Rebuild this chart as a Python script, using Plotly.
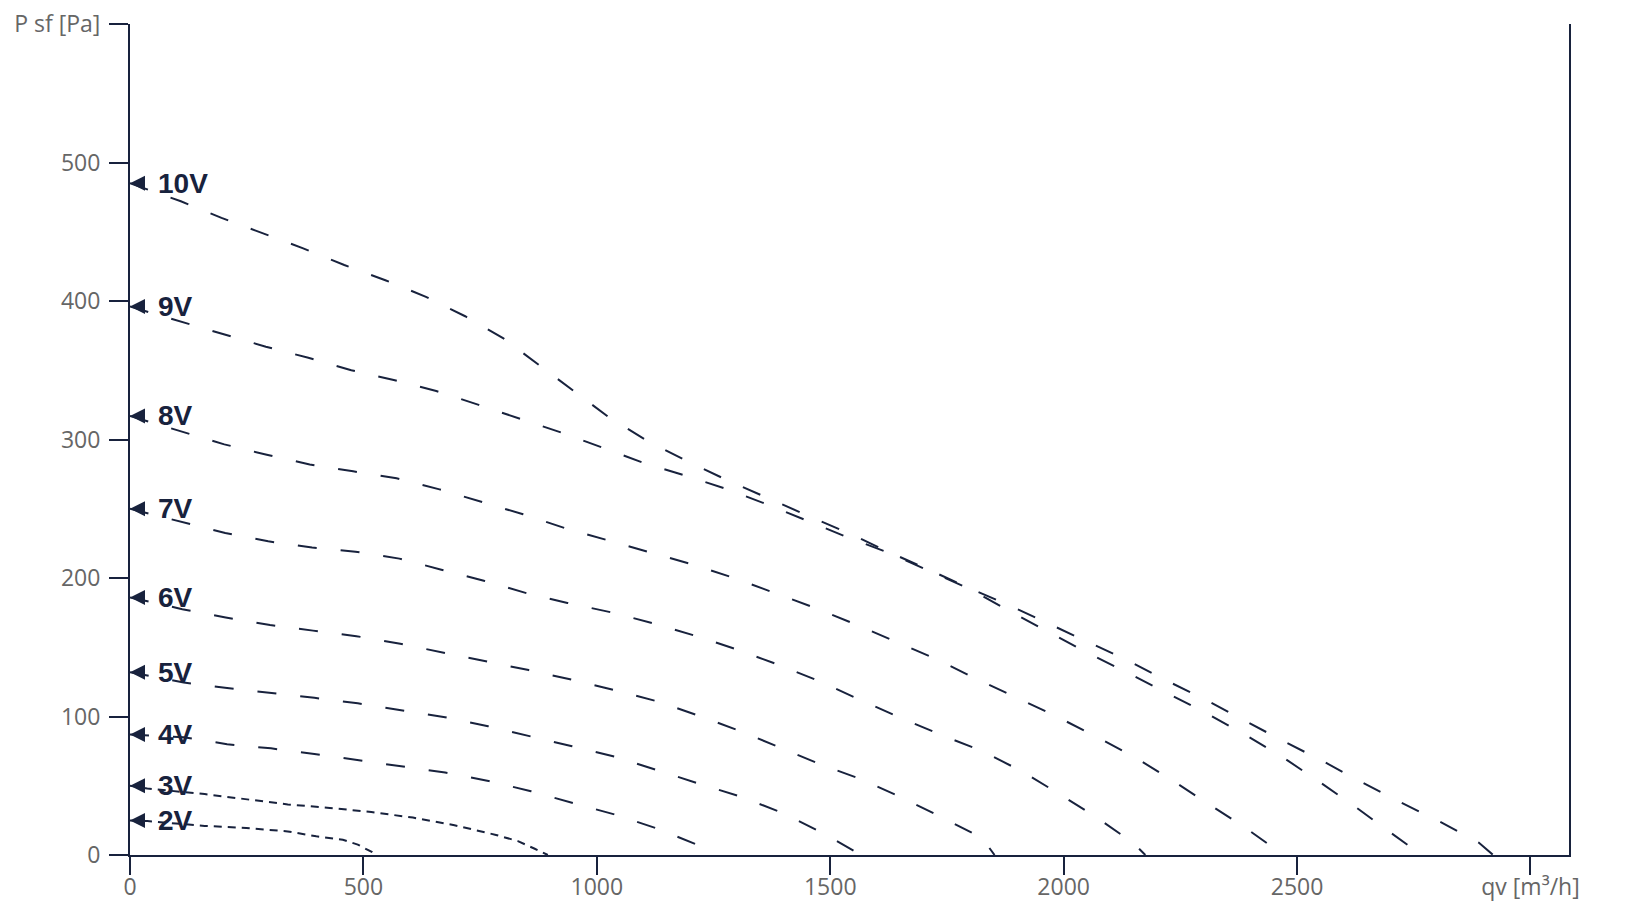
import plotly.graph_objects as go

NAVY = "#18223d"
GREY = "#666666"

# ---- data ----
labels = ["10V", "9V", "8V", "7V", "6V", "5V", "4V", "3V", "2V"]

q10 = [0, 109, 196, 283, 371, 459, 547, 634, 718, 800, 876, 950, 1026, 1108, 1190, 1277, 1363, 1452, 1542,
       1627, 1714, 1799, 1885, 1968, 2051, 2137, 2220, 2305, 2388, 2472, 2554, 2636, 2722, 2806, 2889, 2920]
p10 = [485, 472, 460, 449, 438, 426, 415, 403, 389, 373, 354, 335, 316, 299, 285, 271, 258, 245, 232,
       218.5, 205.5, 192.5, 180, 167, 154, 140.5, 126, 112, 97, 82, 68, 53, 38, 24, 9, 0]

q9 = [0, 109, 201, 291, 382, 474, 565, 656, 747, 836, 924, 1013, 1101, 1189, 1280, 1366, 1454, 1540,
      1627, 1714, 1799, 1885, 1968, 2051, 2137, 2220, 2305, 2388, 2472, 2547, 2624, 2701, 2767]
p9 = [396, 385, 376, 367, 359, 350, 343, 335, 325, 315, 305, 294, 283, 274, 264, 253, 241, 229,
      218, 205, 192, 176, 161, 146, 131.5, 117, 102.5, 87, 70, 53, 35, 16, 0]

q8 = [0, 110, 202, 293, 385, 478, 571, 663, 753, 842, 932, 1021, 1113, 1203, 1294, 1383, 1471, 1558,
      1645, 1730, 1814, 1901, 1985, 2069, 2153, 2232, 2313, 2392, 2471]
p8 = [317, 306, 296.5, 289, 282, 277, 272, 264, 255, 246, 236, 227.5, 219, 210, 200, 189, 178, 166,
      153.5, 141, 127, 113, 100, 85.5, 70.5, 54, 36.5, 19, 0]

q7 = [0, 112, 204, 296, 390, 483, 577, 667, 758, 850, 937, 1034, 1124, 1214, 1303, 1392, 1480, 1564,
      1651, 1739, 1826, 1910, 1991, 2071, 2148, 2175]
p7 = [250, 240.5, 232.5, 226.5, 222, 219, 214, 206, 198, 189, 182, 175, 167, 158, 148, 137, 125, 112,
      99, 86.5, 75, 60.5, 44, 27, 9, 0]

q6 = [0, 112, 205, 300, 392, 485, 579, 672, 764, 854, 947, 1039, 1129, 1219, 1307, 1394, 1482, 1568,
      1656, 1740, 1825, 1852]
p6 = [186, 177.5, 171.5, 166, 162, 158, 152.5, 146, 140, 133.5, 126.5, 119, 111, 100.5, 89.5, 77.5, 65, 54.5,
      41, 27, 12.3, 0]

q5 = [0, 115, 208, 302, 395, 488, 582, 675, 767, 857, 947, 1039, 1130, 1219, 1309, 1397, 1483, 1556, 1562]
p5 = [132, 124.5, 120.5, 117, 113.5, 109.5, 104.5, 99.5, 93, 86, 78.5, 71, 61, 51.5, 42, 30.5, 16, 2, 0]

q4 = [0, 115, 208, 302, 395, 488, 582, 675, 768, 859, 949, 1041, 1130, 1218, 1250]
p4 = [87, 85, 80, 77, 73, 68.5, 64.5, 59.5, 53.5, 46, 37.5, 29, 19, 7, 0]

q3 = [0, 37, 160, 249, 338, 428, 517, 606, 695, 784, 831, 867, 895]
p3 = [50, 48, 44, 40, 36.5, 34, 31, 27, 21.5, 14.5, 10, 4.5, 0]

q2 = [0, 37, 160, 249, 338, 399, 456, 488, 519, 528]
p2 = [25, 24.5, 21, 19.5, 17, 13.5, 11, 7.5, 2, 0]

x_tickvals = [0, 500, 1000, 1500, 2000, 2500, 3000]
x_ticktext = ["0", "500", "1000", "1500", "2000", "2500", "qv [m³/h]"]
y_tickvals = [0, 100, 200, 300, 400, 500, 600]
y_ticktext = ["0", "100", "200", "300", "400", "500", "P sf [Pa]"]

curves = [(q10, p10), (q9, p9), (q8, p8), (q7, p7), (q6, p6), (q5, p5), (q4, p4), (q3, p3), (q2, p2)]

fig = go.Figure()
annotations = []
for name, (qs, ps) in zip(labels, curves):
    short = name in ("3V", "2V")
    fig.add_trace(go.Scatter(
        x=qs, y=ps, mode="lines", name=name, showlegend=False, hoverinfo="skip",
        line=dict(color=NAVY, width=2, dash="8px,6px" if short else "19px,24px"),
    ))
    # arrow pointing at the axis at the curve start
    annotations.append(dict(
        x=0, y=ps[0], xref="x", yref="y", text="", showarrow=True,
        ax=15, ay=0, arrowhead=2, arrowsize=1.5, arrowwidth=2, arrowcolor=NAVY,
    ))
    annotations.append(dict(
        x=0, y=ps[0], xref="x", yref="y", text="<b>%s</b>" % name, showarrow=False,
        xanchor="left", yanchor="middle", xshift=26,
        font=dict(family="Liberation Sans, Arial", size=28, color=NAVY),
    ))

fig.update_layout(
    width=1626, height=916,
    margin=dict(l=130, r=57, t=24, b=61, pad=0, autoexpand=False),
    paper_bgcolor="white", plot_bgcolor="white",
    annotations=annotations,
    xaxis=dict(
        range=[0, 3082.5], tickvals=x_tickvals, ticktext=x_ticktext, automargin=False,
        showline=True, linecolor=NAVY, linewidth=2,
        ticks="outside", ticklen=18, tickwidth=2, tickcolor=NAVY,
        showgrid=False, zeroline=False, ticklabelstandoff=-8,
        tickfont=dict(family="Open Sans", size=23, color=GREY),
    ),
    yaxis=dict(
        range=[0, 600], tickvals=y_tickvals, ticktext=y_ticktext, automargin=False,
        showline=True, linecolor=NAVY, linewidth=2, mirror=True,
        ticks="outside", ticklen=19, tickwidth=2, tickcolor=NAVY,
        showgrid=False, zeroline=False, ticklabelstandoff=4,
        tickfont=dict(family="Open Sans", size=23, color=GREY),
    ),
)

fig.write_html("out.html", config={"displayModeBar": False},
               post_script="document.body.style.margin='0';document.body.style.overflow='hidden';")
